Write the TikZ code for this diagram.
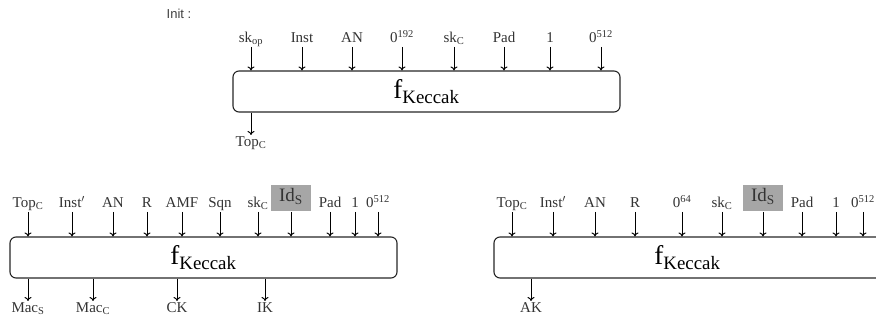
\documentclass[tikz,border=0pt]{standalone}
\usepackage{fontspec}
\setmainfont{Liberation Serif}
\newfontfamily\labelfont{Liberation Sans}
\usetikzlibrary{positioning,arrows.meta}

\begin{document}
\begin{tikzpicture}[
        x=1pt,
        y=-1pt,
        keccak/.style={
                rectangle,
                rounded corners=6pt,
                draw=black!85,
                line width=1.1pt,
                minimum width=387pt,
                minimum height=41pt,
                font=\fontsize{27}{30}\selectfont
            },
        input/.style={
                inner sep=0pt,
                text height=11pt,
                text depth=4pt,
                anchor=south,
                text=black!80,
                font=\fontsize{15}{17}\selectfont
            },
        output/.style={
                input,
                anchor=north
            },
        highlight/.style={
                input,
                fill=black!35,
                minimum width=40pt,
                minimum height=26pt,
                font=\fontsize{19}{21}\selectfont
            },
        >={To[length=4pt,width=7pt]},
        line width=1pt
    ]
    \useasboundingbox (0,0) rectangle (876,320);
    \clip (0,0) rectangle (876,320);

    \node[font=\labelfont\fontsize{13}{15}\selectfont, text=black!75] (initTitle) at (179,14) {Init :};

    % Init
    \node[keccak] (initBox) at (426.5,91.5) {f\textsubscript{Keccak}};
    \node[input] (initSkOp) at (251,47) {sk\textsubscript{op}};
    \node[input] (initInst) at (302,47) {Inst};
    \node[input] (initAN) at (352,47) {AN};
    \node[input] (initZero) at (402,47) {0\textsuperscript{192}};
    \node[input] (initSkC) at (454,47) {sk\textsubscript{C}};
    \node[input] (initPad) at (504,47) {Pad};
    \node[input] (initOne) at (550,47) {1};
    \node[input] (initZeroB) at (601,47) {0\textsuperscript{512}};
    \node[output] (initTopC) at (251,135) {Top\textsubscript{C}};

    \path[->] (initSkOp.south) edge (initSkOp.south |- initBox.north);
    \path[->] (initInst.south) edge (initInst.south |- initBox.north);
    \path[->] (initAN.south) edge (initAN.south |- initBox.north);
    \path[->] (initZero.south) edge (initZero.south |- initBox.north);
    \path[->] (initSkC.south) edge (initSkC.south |- initBox.north);
    \path[->] (initPad.south) edge (initPad.south |- initBox.north);
    \path[->] (initOne.south) edge (initOne.south |- initBox.north);
    \path[->] (initZeroB.south) edge (initZeroB.south |- initBox.north);
    \path[->] (initTopC.north |- initBox.south) edge (initTopC.north);

    % Mac, CK, IK
    \node[keccak] (macBox) at (203.5,257.5) {f\textsubscript{Keccak}};
    \node[input] (macTopC) at (28,212) {Top\textsubscript{C}};
    \node[input] (macInst) at (72,212) {Inst$'$};
    \node[input] (macAN) at (113,212) {AN};
    \node[input] (macR) at (147,212) {R};
    \node[input] (macAMF) at (182,212) {AMF};
    \node[input] (macSqn) at (220,212) {Sqn};
    \node[input] (macSkC) at (258,212) {sk\textsubscript{C}};
    \node[highlight] (macIdS) at (291,212) {Id\textsubscript{S}};
    \node[input] (macPad) at (330,212) {Pad};
    \node[input] (macOne) at (355,212) {1};
    \node[input] (macZero) at (378,212) {0\textsuperscript{512}};
    \node[output] (macMacS) at (28,301) {Mac\textsubscript{S}};
    \node[output] (macMacC) at (93,301) {Mac\textsubscript{C}};
    \node[output] (macCK) at (177,301) {CK};
    \node[output] (macIK) at (265,301) {IK};

    \path[->] (macTopC.south) edge (macTopC.south |- macBox.north);
    \path[->] (macInst.south) edge (macInst.south |- macBox.north);
    \path[->] (macAN.south) edge (macAN.south |- macBox.north);
    \path[->] (macR.south) edge (macR.south |- macBox.north);
    \path[->] (macAMF.south) edge (macAMF.south |- macBox.north);
    \path[->] (macSqn.south) edge (macSqn.south |- macBox.north);
    \path[->] (macSkC.south) edge (macSkC.south |- macBox.north);
    \path[->] (macIdS.south) edge (macIdS.south |- macBox.north);
    \path[->] (macPad.south) edge (macPad.south |- macBox.north);
    \path[->] (macOne.south) edge (macOne.south |- macBox.north);
    \path[->] (macZero.south) edge (macZero.south |- macBox.north);
    \path[->] (macMacS.north |- macBox.south) edge (macMacS.north);
    \path[->] (macMacC.north |- macBox.south) edge (macMacC.north);
    \path[->] (macCK.north |- macBox.south) edge (macCK.north);
    \path[->] (macIK.north |- macBox.south) edge (macIK.north);

    % AK
    \node[keccak, minimum width=400pt] (akBox) at (694,257.5) {};
    \node[font=\fontsize{27}{30}\selectfont] (akLabel) at (687.5,257.5) {f\textsubscript{Keccak}};
    \node[input] (akTopC) at (512,212) {Top\textsubscript{C}};
    \node[input] (akInst) at (553,212) {Inst$'$};
    \node[input] (akAN) at (595,212) {AN};
    \node[input] (akR) at (635,212) {R};
    \node[input] (akZero) at (682,212) {0\textsuperscript{64}};
    \node[input] (akSkC) at (722,212) {sk\textsubscript{C}};
    \node[highlight] (akIdS) at (763,212) {Id\textsubscript{S}};
    \node[input] (akPad) at (802,212) {Pad};
    \node[input] (akOne) at (836,212) {1};
    \node[input] (akZeroB) at (863,212) {0\textsuperscript{512}};
    \node[output] (akAK) at (531,301) {AK};

    \path[->] (akTopC.south) edge (akTopC.south |- akBox.north);
    \path[->] (akInst.south) edge (akInst.south |- akBox.north);
    \path[->] (akAN.south) edge (akAN.south |- akBox.north);
    \path[->] (akR.south) edge (akR.south |- akBox.north);
    \path[->] (akZero.south) edge (akZero.south |- akBox.north);
    \path[->] (akSkC.south) edge (akSkC.south |- akBox.north);
    \path[->] (akIdS.south) edge (akIdS.south |- akBox.north);
    \path[->] (akPad.south) edge (akPad.south |- akBox.north);
    \path[->] (akOne.south) edge (akOne.south |- akBox.north);
    \path[->] (akZeroB.south) edge (akZeroB.south |- akBox.north);
    \path[->] (akAK.north |- akBox.south) edge (akAK.north);
\end{tikzpicture}
\end{document}
